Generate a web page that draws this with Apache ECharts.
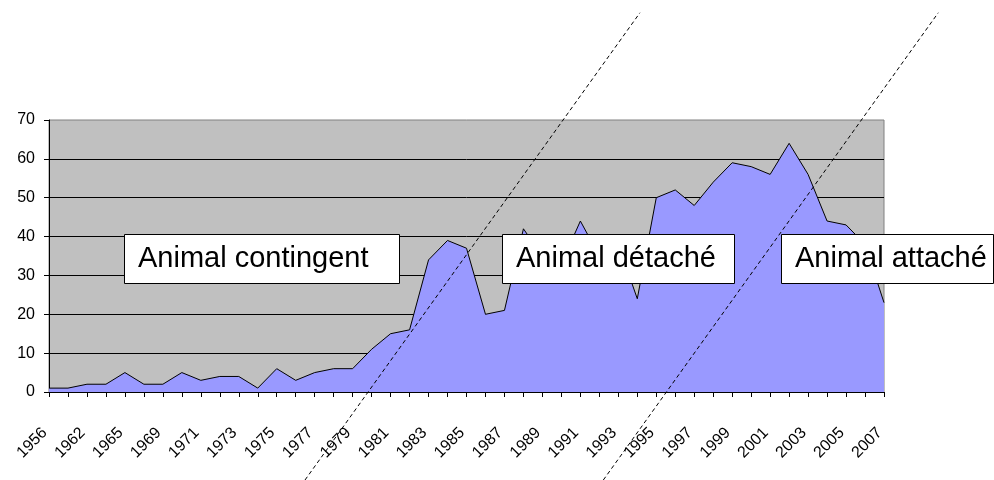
<!DOCTYPE html>
<html>
<head>
<meta charset="utf-8">
<script src="https://cdn.jsdelivr.net/npm/echarts@6/dist/echarts.min.js"></script>
<style>
html,body{margin:0;padding:0;background:#fff;}
#chart{width:994px;height:480px;}
</style>
</head>
<body>
<div id="chart"></div>
<script>
// Categories (years); only every other one is labelled on the axis
var years = ['1956','1960','1962','1964','1965','1967','1969','1970','1971','1972',
  '1973','1974','1975','1976','1977','1978','1979','1980','1981','1982',
  '1983','1984','1985','1986','1987','1988','1989','1990','1991','1992',
  '1993','1994','1995','1996','1997','1998','1999','2000','2001','2002',
  '2003','2004','2005','2006','2007'];
// Series values
var counts = [1,1,2,2,5,2,2,5,3,4,
  4,1,6,3,5,6,6,11,15,16,
  34,39,37,20,21,42,35,33,44,35,
  38,24,50,52,48,54,59,58,56,64,
  56,44,43,38,23];
// Y tick range
var yMin = 0, yMax = 70, yStep = 10;
// Period separator lines, in (category index, value) data space
var separator1 = [[13.49, -22.65], [31.14, 97.6]];
var separator2 = [[29.21, -22.65], [46.86, 97.6]];
// Annotation texts
var periodLabels = ['Animal contingent', 'Animal détaché', 'Animal attaché'];

var chart = echarts.init(document.getElementById('chart'), null, {renderer: 'canvas'});
var FONT = "'Liberation Sans', Arial, sans-serif";

// plot area in pixels
var G = {left: 49, right: 110, top: 120, bottom: 88};
var W = 994, H = 480;
var plotW = W - G.left - G.right, plotH = H - G.top - G.bottom;
var idxPerPx = (years.length - 1) / plotW;
var valPerPx = (yMax - yMin) / plotH;
// full-canvas overlay axis spanning the same data space as the plot
var ovXMin = 0 - G.left * idxPerPx, ovXMax = (years.length - 1) + G.right * idxPerPx;
var ovYMin = yMin - G.bottom * valPerPx, ovYMax = yMax + G.top * valPerPx;

function box(x, y, w, h, tx, text) {
  return {
    type: 'group', z: 100,
    children: [
      {type: 'rect', z: 100, shape: {x: x, y: y, width: w, height: h},
       style: {fill: '#fff', stroke: '#000', lineWidth: 1}},
      {type: 'text', z: 101, x: tx, y: y + h / 2,
       style: {text: text, fill: '#000', font: '29px ' + FONT,
               textAlign: 'left', textVerticalAlign: 'middle'}}
    ]
  };
}

chart.setOption({
  animation: false,
  backgroundColor: '#fff',
  grid: [
    {left: G.left, right: G.right, top: G.top, bottom: G.bottom, show: true,
     backgroundColor: '#C0C0C0', borderColor: '#808080', borderWidth: 1},
    {left: 0, right: 0, top: 0, bottom: 0, show: false}
  ],
  xAxis: [{
    type: 'category', data: years, boundaryGap: false, gridIndex: 0,
    axisLine: {lineStyle: {color: '#000', width: 1}},
    axisTick: {show: true, interval: 0, length: 5, lineStyle: {color: '#000'}},
    axisLabel: {interval: 1, rotate: 45, fontSize: 16, color: '#000',
                fontFamily: FONT, margin: 34, padding: [0, 6, 0, 0]},
    splitLine: {show: false}
  }, {
    type: 'value', gridIndex: 1, min: ovXMin, max: ovXMax, show: false
  }],
  yAxis: [{
    type: 'value', min: yMin, max: yMax, interval: yStep, gridIndex: 0,
    axisLine: {show: true, lineStyle: {color: '#000', width: 1}},
    axisTick: {show: true, length: 5, lineStyle: {color: '#000'}},
    axisLabel: {fontSize: 16, color: '#000', fontFamily: FONT, margin: 14},
    splitLine: {show: true, showMaxLine: false, lineStyle: {color: '#000', width: 1}}
  }, {
    type: 'value', gridIndex: 1, min: ovYMin, max: ovYMax, show: false
  }],
  series: [{
    type: 'line', xAxisIndex: 0, yAxisIndex: 0, data: counts,
    symbol: 'none', lineStyle: {color: '#000', width: 1},
    areaStyle: {color: '#9999FF', opacity: 1}, z: 2
  }, {
    type: 'line', xAxisIndex: 1, yAxisIndex: 1, data: separator1,
    symbol: 'none', clip: false, z: 3,
    lineStyle: {color: '#000', width: 1, type: [4, 3]}
  }, {
    type: 'line', xAxisIndex: 1, yAxisIndex: 1, data: separator2,
    symbol: 'none', clip: false, z: 3,
    lineStyle: {color: '#000', width: 1, type: [4, 3]}
  }],
  graphic: [
    box(124.5, 234.5, 275, 49, 138, periodLabels[0]),
    box(502.5, 234.5, 232, 49, 516, periodLabels[1]),
    box(781.5, 234.5, 212, 49, 795, periodLabels[2])
  ]
});
</script>
</body>
</html>
